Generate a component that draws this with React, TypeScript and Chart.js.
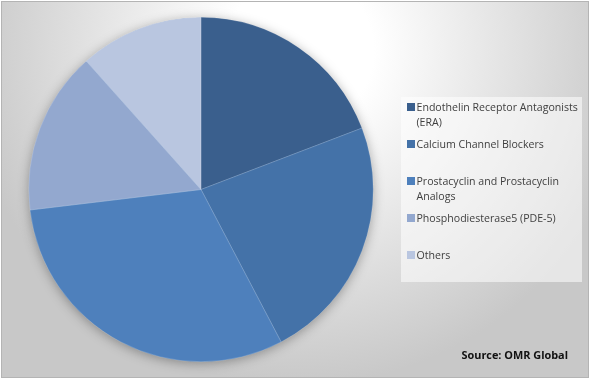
import React, { useEffect, useRef } from "react";
import { Chart, ArcElement, PieController } from "chart.js";

Chart.register(ArcElement, PieController);

const categories = [
  "Endothelin Receptor Antagonists (ERA)",
  "Calcium Channel Blockers",
  "Prostacyclin and Prostacyclin Analogs",
  "Phosphodiesterase5 (PDE-5)",
  "Others",
];
const shares = [19.2, 23.1, 30.8, 15.3, 11.6];
const sliceColors = ["#3A5F8D", "#4472A8", "#4E80BC", "#93A8CF", "#B9C6E0"];
const sourceNote = "Source: OMR Global";

const W = 593;
const H = 380;

function wrap(ctx: CanvasRenderingContext2D, text: string, maxW: number): string[] {
  const words = text.split(" ");
  const lines: string[] = [];
  let cur = "";
  for (const w of words) {
    const t = cur ? cur + " " + w : w;
    if (cur && ctx.measureText(t).width > maxW) {
      lines.push(cur);
      cur = w;
    } else cur = t;
  }
  if (cur) lines.push(cur);
  return lines;
}

const decor = {
  id: "decor",
  beforeDraw(chart: any) {
    const ctx: CanvasRenderingContext2D = chart.ctx;
    ctx.save();
    ctx.fillStyle = "#ffffff";
    ctx.fillRect(0, 0, W, H);
    const g = ctx.createRadialGradient(300, 50, 0, 300, 50, 335);
    g.addColorStop(0, "#ffffff");
    g.addColorStop(0.22, "#ffffff");
    g.addColorStop(1, "#c8c8c8");
    ctx.fillStyle = g;
    ctx.fillRect(2, 2, 586, 376);
    ctx.strokeStyle = "#b4b4b4";
    ctx.lineWidth = 1;
    ctx.strokeRect(1.5, 1.5, 587, 376);
    ctx.restore();
  },
  beforeDatasetsDraw(chart: any) {
    const ctx: CanvasRenderingContext2D = chart.ctx;
    const arc = chart.getDatasetMeta(0).data[0];
    if (!arc) return;
    const { x, y, outerRadius } = arc.getProps(["x", "y", "outerRadius"], true);
    ctx.save();
    ctx.shadowColor = "rgba(0,0,0,0.35)";
    ctx.shadowBlur = 12;
    ctx.shadowOffsetY = 2;
    ctx.beginPath();
    ctx.arc(x, y, outerRadius - 0.5, 0, Math.PI * 2);
    ctx.fillStyle = sliceColors[2];
    ctx.fill();
    ctx.restore();
  },
  afterDraw(chart: any) {
    const ctx: CanvasRenderingContext2D = chart.ctx;
    ctx.save();
    // legend box
    ctx.fillStyle = "rgba(255,255,255,0.55)";
    ctx.fillRect(401, 97, 181, 185);
    ctx.font = "10.6px 'Open Sans'";
    ctx.textBaseline = "middle";
    ctx.textAlign = "left";
    categories.forEach((c, i) => {
      const yc = 107 + i * 37;
      ctx.fillStyle = sliceColors[i];
      ctx.fillRect(407, yc - 4, 8, 8);
      ctx.fillStyle = "#404040";
      const lines = wrap(ctx, c, 170);
      lines.forEach((ln, j) => ctx.fillText(ln, 416.5, yc + 1 + j * 15));
    });
    // source
    ctx.font = "bold 10.9px 'Open Sans'";
    ctx.fillStyle = "#111111";
    ctx.textAlign = "right";
    ctx.fillText(sourceNote, 568, 356);
    ctx.restore();
  },
};

export default function App() {
  const ref = useRef<HTMLCanvasElement>(null);
  useEffect(() => {
    document.body.style.margin = "0";
    const chart = new Chart(ref.current!, {
      type: "pie",
      data: {
        labels: categories,
        datasets: [
          {
            data: shares,
            backgroundColor: sliceColors,
            borderColor: "rgba(255,255,255,0.35)",
            borderWidth: 0.5,
          },
        ],
      },
      options: {
        responsive: false,
        animation: false,
        devicePixelRatio: 1,
        layout: { padding: { left: 28.5, right: 219.5, top: 17, bottom: 18 } },
        plugins: { legend: { display: false }, tooltip: { enabled: false } } as any,
      },
      plugins: [decor],
    });
    return () => chart.destroy();
  }, []);
  return (
    <div style={{ width: W, height: H }}>
      <canvas ref={ref} width={W} height={H} style={{ display: "block" }} />
    </div>
  );
}
